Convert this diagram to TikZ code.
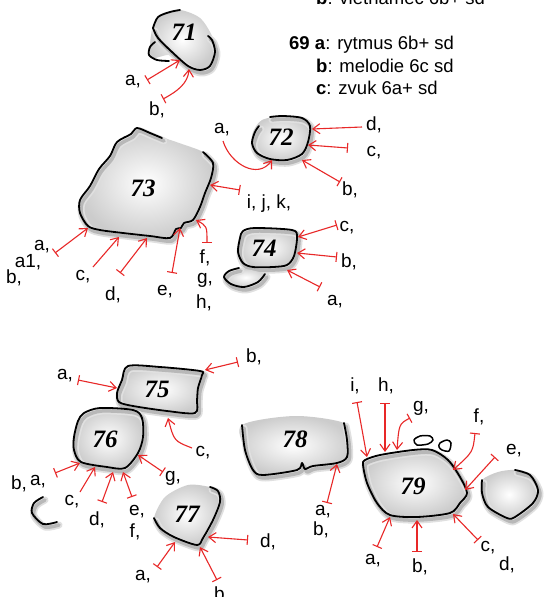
\documentclass[tikz,border=0pt]{standalone}
\usepackage{fontspec}
\setmainfont{Liberation Sans}
\newfontfamily\numfont{Liberation Serif}
\usetikzlibrary{arrows.meta}
\definecolor{topo}{RGB}{232,40,40}
\tikzset{
  route/.style={draw=topo, line width=1.1pt, {Bar[width=10pt,line width=1.1pt]}-{Straight Barb[length=7pt,width=10pt,line width=1.1pt]}},
  free/.style={draw=topo, line width=1.1pt, -{Straight Barb[length=7pt,width=10pt,line width=1.1pt]}},
  rock/.style={draw=black, line width=1.8pt, line cap=round, line join=round},
  rockshadow/.style={draw=black!12, line width=7pt, line cap=round, line join=round, shift={(2,3)}},
  rockshadowb/.style={draw=black!28, line width=3.5pt, line cap=round, line join=round, shift={(2,3)}},
  rockfill/.style={inner color=white, outer color=black!20},
  lbl/.style={inner sep=0pt, font=\fontsize{19}{19}\selectfont},
  num/.style={inner sep=0pt, font=\fontsize{25}{25}\selectfont\numfont\bfseries\itshape},
  hdr/.style={inner sep=0pt, anchor=base west, font=\fontsize{18.5}{18.5}\selectfont}
}
\newcommand\rockline[2][]{%
  \draw[rockshadow] plot[smooth#1] coordinates {#2};
  \draw[rockshadowb] plot[smooth#1] coordinates {#2};
  \draw[rock] plot[smooth#1] coordinates {#2};}
\begin{document}
\begin{tikzpicture}[x=1pt,y=-1pt]
\useasboundingbox (0,0) rectangle (550,597);
\fill[white] (0,0) rectangle (550,597);

% ---------- header ----------
\node[hdr] (h70b) at (316,5) {\textbf{b}: vietnamec 6b+ sd};
\node[hdr] (h69a) at (289,49) {\textbf{69 a}: rytmus 6b+ sd};
\node[hdr] (h69b) at (316,72) {\textbf{b}: melodie 6c sd};
\node[hdr] (h69c) at (316,94) {\textbf{c}: zvuk 6a+ sd};

% ---------- boulder 71 ----------
\shade[rockfill] plot[smooth cycle] coordinates {(153,27) (162,14) (180,10) (200,18) (212,36) (215,52) (210,65) (198,70) (185,65) (170,55) (152,58) (150,45)};
\rockline{(153,28) (158,38) (172,52) (188,66) (200,70) (210,66) (215,52) (212,40) (208,36)}
\draw[rock] plot[smooth] coordinates {(153,28) (158,17) (170,12) (180,10)};
\draw[rock] plot[smooth] coordinates {(155,42) (150,47) (149,55) (157,60) (169,61)};
\node[num] (n71) at (184,32) {71};

% ---------- boulder 72 ----------
\shade[rockfill] plot[smooth cycle] coordinates {(253,132) (262,120) (283,116) (302,118) (310,126) (308,142) (302,154) (287,160) (270,159) (257,153) (252,143)};
\rockline{(270,117) (283,116) (302,118) (310,126) (308,142) (302,154) (287,160) (270,159) (257,153) (252,143) (255,132) (259,126)}
\node[num] (n72) at (281,137) {72};

% ---------- boulder 73 ----------
\shade[rockfill] plot[smooth cycle] coordinates {(150,133) (137,128) (131,134) (117,142) (110,156) (99,169) (90,186) (80,200) (80,213) (88,226) (100,230) (123,233) (150,236) (170,238) (176,229) (181,228) (184,223) (193,220) (200,207) (205,193) (211,178) (213,163) (203,152) (182,144)};
\rockline{(162,138) (150,133) (137,128) (131,134) (117,142) (110,156) (99,169) (90,186) (80,200) (80,213) (88,226) (100,230) (123,233) (150,236) (170,238) (176,229) (181,228) (184,223) (193,220) (200,207) (205,193) (211,178) (213,163) (203,152)}
\node[num] (n73) at (143,188) {73};

% ---------- boulder 74 ----------
\shade[rockfill] plot[smooth cycle] coordinates {(243,231) (255,228) (292,230) (297,237) (294,256) (287,265) (273,267) (253,267) (243,263) (238,252) (240,238)};
\rockline[ cycle]{(243,231) (255,228) (292,230) (297,237) (294,256) (287,265) (273,267) (253,267) (243,263) (238,252) (240,238)}
\shade[rockfill] plot[smooth cycle] coordinates {(265,274) (258,282) (244,287) (231,284) (224,277) (229,271) (239,268)};
\rockline{(265,274) (258,282) (244,287) (231,284) (224,277) (229,271) (239,268)}
\node[num] (n74) at (264,248) {74};

% ---------- boulder 75 ----------
\shade[rockfill] plot[smooth cycle] coordinates {(128,366) (160,367) (200,371) (202,375) (198,388) (197,400) (195,413) (167,411) (133,406) (119,402) (117,393) (122,380)};
\rockline[ cycle]{(128,366) (160,367) (200,371) (202,375) (198,388) (197,400) (195,413) (167,411) (133,406) (119,402) (117,393) (122,380)}
\node[num] (n75) at (157,389) {75};

% ---------- boulder 76 ----------
\shade[rockfill] plot[smooth cycle] coordinates {(84,413) (100,408) (133,410) (142,418) (143,437) (138,453) (125,468) (107,467) (81,462) (74,450) (74,437) (78,421)};
\rockline[ cycle]{(84,413) (100,408) (133,410) (142,418) (143,437) (138,453) (125,468) (107,467) (81,462) (74,450) (74,437) (78,421)}
\node[num] (n76) at (105,439) {76};

% small rock left
\rockline{(43,497) (34,503) (32,513) (43,524) (57,522)}

% ---------- boulder 77 ----------
\shade[rockfill] plot[smooth cycle] coordinates {(210,487) (218,491) (220,502) (213,520) (203,538) (197,545) (174,537) (160,528) (154,518) (165,497) (188,485)};
\rockline{(210,487) (218,491) (220,502) (213,520) (203,538) (197,545) (174,537) (160,528) (154,518)}
\node[num] (n77) at (187,514) {77};

% ---------- boulder 78 ----------
\shade[rockfill] plot[smooth cycle] coordinates {(242,425) (245,450) (253,470) (263,475) (297,470) (302,463) (305,469) (313,466) (337,463) (347,457) (347,440) (344,423) (295,416)};
\rockline{(242,425) (245,450) (253,470) (263,475) (297,470) (302,463) (305,469) (313,466) (337,463) (347,457) (347,440) (344,423)}
\node[num] (n78) at (295,439) {78};

% ---------- boulder 79 ----------
\shade[rockfill] plot[smooth cycle] coordinates {(365,460) (380,455) (413,450) (432,450) (448,460) (460,477) (467,493) (460,503) (450,513) (417,517) (390,515) (377,503) (367,483) (363,465)};
\rockline[ cycle]{(365,460) (380,455) (413,450) (432,450) (448,460) (460,477) (467,493) (460,503) (450,513) (417,517) (390,515) (377,503) (367,483) (363,465)}
\node[num] (n79) at (413,486) {79};
% small rocks above 79
\draw[rock, line width=1.5pt] plot[smooth cycle] coordinates {(414,440) (420,436) (430,436) (433,440) (428,444) (417,445)};
\draw[rock, line width=1.5pt] plot[smooth cycle] coordinates {(440,443) (447,440) (451,443) (449,451) (442,450) (439,447)};
% right rock
\shade[rockfill] plot[smooth cycle] coordinates {(515,470) (530,475) (538,490) (533,503) (515,517) (507,518) (488,507) (482,493) (482,480) (498,472)};
\rockline{(515,470) (530,475) (538,490) (533,503) (515,517) (507,518) (488,507) (482,493) (482,480)}

% ---------- route end points ----------
\coordinate (s71a) at (147,80);  \coordinate (e71a) at (180,60);
\coordinate (s71b) at (163,99);  \coordinate (e71b) at (189,69);
\coordinate (s72a) at (223,141); \coordinate (e72a) at (272,160);
\coordinate (s72d) at (362,127); \coordinate (e72d) at (312,129);
\coordinate (s72c) at (348,148); \coordinate (e72c) at (308,145);
\coordinate (s72b) at (340,182); \coordinate (e72b) at (302,160);
\coordinate (s73a) at (55,253);  \coordinate (e73a) at (88,228);
\coordinate (s73c) at (93,267);  \coordinate (e73c) at (119,237);
\coordinate (s73d) at (120,273); \coordinate (e73d) at (147,238);
\coordinate (s73e) at (172,273); \coordinate (e73e) at (180,228);
\coordinate (s73f) at (207,243); \coordinate (e73f) at (196,220);
\coordinate (s73i) at (240,190); \coordinate (e73i) at (210,185);
\coordinate (s74c) at (337,225); \coordinate (e74c) at (298,237);
\coordinate (s74b) at (337,257); \coordinate (e74b) at (297,253);
\coordinate (s74a) at (320,287); \coordinate (e74a) at (287,270);
\coordinate (s75a) at (78,380);  \coordinate (e75a) at (117,388);
\coordinate (s75b) at (238,362); \coordinate (e75b) at (205,370);
\coordinate (s75c) at (192,448); \coordinate (e75c) at (168,418);
\coordinate (s76a) at (55,473);  \coordinate (e76a) at (80,463);
\coordinate (s76c) at (80,492);  \coordinate (e76c) at (95,467);
\coordinate (s76d) at (102,502); \coordinate (e76d) at (113,472);
\coordinate (s76e) at (132,497); \coordinate (e76e) at (123,472);
\coordinate (s76g) at (163,472); \coordinate (e76g) at (138,455);
\coordinate (s77d) at (248,540); \coordinate (e77d) at (208,537);
\coordinate (s77a) at (157,567); \coordinate (e77a) at (175,542);
\coordinate (s77b) at (217,580); \coordinate (e77b) at (200,547);
\coordinate (s78a) at (327,503); \coordinate (e78a) at (337,464);
\coordinate (s79i) at (357,402); \coordinate (e79i) at (367,457);
\coordinate (s79h) at (385,403); \coordinate (e79h) at (385,452);
\coordinate (s79g) at (410,418); \coordinate (e79g) at (397,450);
\coordinate (s79f) at (475,433); \coordinate (e79f) at (453,470);
\coordinate (s79e) at (495,457); \coordinate (e79e) at (465,490);
\coordinate (s79a) at (377,547); \coordinate (e79a) at (390,517);
\coordinate (s79b) at (417,552); \coordinate (e79b) at (417,520);
\coordinate (s79c) at (478,540); \coordinate (e79c) at (453,514);

% ---------- routes ----------
\draw[route] (s71a) -- (e71a);
\draw[route] (s71b) .. controls (178,91) and (188,83) .. (e71b);
\draw[free]  (s72a) .. controls (230,164) and (258,180) .. (e72a);
\draw[free]  (s72d) -- (e72d);
\draw[route] (s72c) -- (e72c);
\draw[route] (s72b) -- (e72b);
\draw[route] (s73a) -- (e73a);
\draw[free]  (s73c) -- (e73c);
\draw[route] (s73d) -- (e73d);
\draw[route] (s73e) -- (e73e);
\draw[route] (s73f) .. controls (207,226) .. (e73f);
\draw[route] (s73i) -- (e73i);
\draw[route] (s74c) -- (e74c);
\draw[route] (s74b) -- (e74b);
\draw[route] (s74a) -- (e74a);
\draw[route] (s75a) -- (e75a);
\draw[route] (s75b) -- (e75b);
\draw[free]  (s75c) .. controls (174,441) .. (e75c);
\draw[route] (s76a) -- (e76a);
\draw[free]  (s76c) -- (e76c);
\draw[route] (s76d) -- (e76d);
\draw[route] (s76e) -- (e76e);
\draw[route] (s76g) -- (e76g);
\draw[route] (s77d) -- (e77d);
\draw[route] (s77a) -- (e77a);
\draw[route] (s77b) -- (e77b);
\draw[route] (s78a) -- (e78a);
\draw[route] (s79i) -- (e79i);
\draw[route] (s79h) -- (e79h);
\draw[route] (s79g) .. controls (399,424) .. (e79g);
\draw[route] (s79f) .. controls (473,452) .. (e79f);
\draw[route] (s79e) -- (e79e);
\draw[route] (s79a) -- (e79a);
\draw[route] (s79b) -- (e79b);
\draw[route] (s79c) -- (e79c);

% ---------- labels ----------
\node[lbl] (l71a) at (133,82) {a,};
\node[lbl] (l71b) at (157,110) {b,};
\node[lbl] (l72a) at (222,130) {a,};
\node[lbl] (l72d) at (374,125) {d,};
\node[lbl] (l72c) at (374,153) {c,};
\node[lbl] (l72b) at (350,190) {b,};
\node[lbl] (l73i) at (269,204) {i, j, k,};
\node[lbl] (l73a) at (42,247) {a,};
\node[lbl] (l73a1) at (28,262) {a1,};
\node[lbl] (l73b) at (14,278) {b,};
\node[lbl] (l73c) at (83,277) {c,};
\node[lbl] (l73d) at (113,295) {d,};
\node[lbl] (l73e) at (165,292) {e,};
\node[lbl] (l73f) at (205,258) {f,};
\node[lbl] (l73g) at (205,280) {g,};
\node[lbl] (l73h) at (204,303) {h,};
\node[lbl] (l74c) at (347,228) {c,};
\node[lbl] (l74b) at (349,262) {b,};
\node[lbl] (l74a) at (335,302) {a,};
\node[lbl] (l75a) at (65,376) {a,};
\node[lbl] (l75b) at (254,357) {b,};
\node[lbl] (l75c) at (203,453) {c,};
\node[lbl] (l76b) at (19,484) {b,};
\node[lbl] (l76a) at (38,482) {a,};
\node[lbl] (l76c) at (72,502) {c,};
\node[lbl] (l76d) at (97,520) {d,};
\node[lbl] (l76e) at (137,512) {e,};
\node[lbl] (l76f) at (135,532) {f,};
\node[lbl] (l76g) at (173,478) {g,};
\node[lbl] (l77d) at (268,542) {d,};
\node[lbl] (l77a) at (143,577) {a,};
\node[lbl] (l77b) at (222,595) {b,};
\node[lbl] (l78a) at (323,512) {a,};
\node[lbl] (l78b) at (321,530) {b,};
\node[lbl] (l79i) at (355,386) {i,};
\node[lbl] (l79h) at (386,386) {h,};
\node[lbl] (l79g) at (421,408) {g,};
\node[lbl] (l79f) at (479,417) {f,};
\node[lbl] (l79e) at (514,451) {e,};
\node[lbl] (l79a) at (373,561) {a,};
\node[lbl] (l79b) at (420,567) {b,};
\node[lbl] (l79c) at (488,548) {c,};
\node[lbl] (l79d) at (507,565) {d,};
\end{tikzpicture}
\end{document}
